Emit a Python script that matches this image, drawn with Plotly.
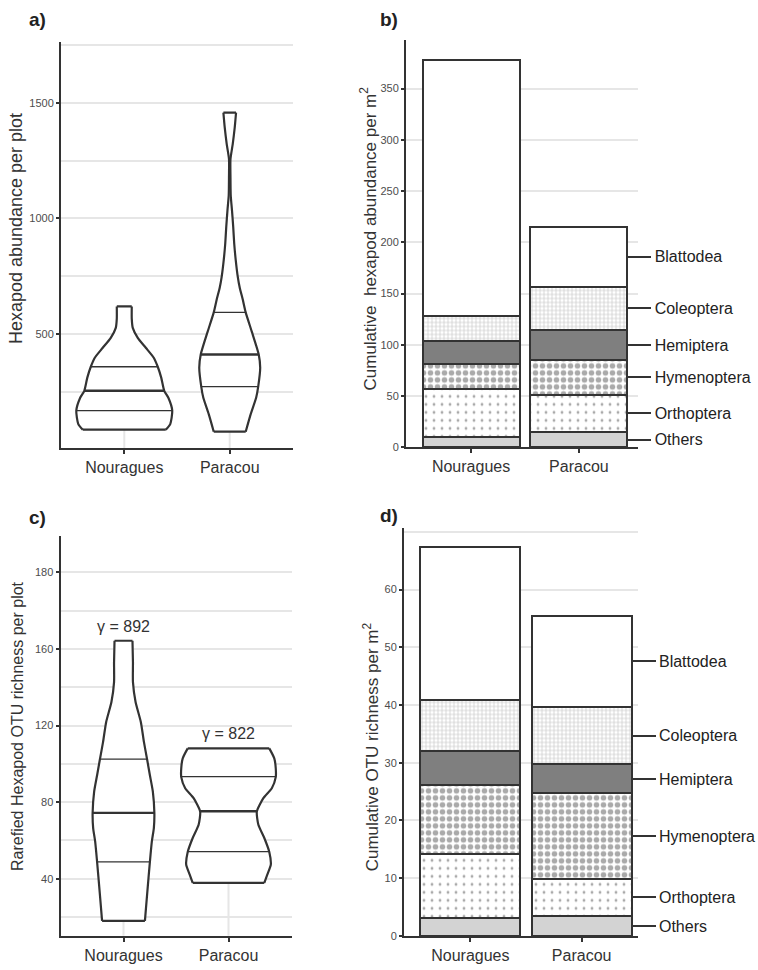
import numpy as np
import plotly.graph_objects as go

FONT = "Liberation Sans, Arial, sans-serif"
INK = "#333333"
GRID = "#e6e6e6"

sites = ["Nouragues", "Paracou"]
orders = ["Others", "Orthoptera", "Hymenoptera", "Hemiptera", "Coleoptera", "Blattodea"]

# a) hexapod abundance per plot: violin outline (value, full width in category units)
a_nour_y = [86, 110, 168, 225, 254, 311, 358, 397, 440, 483, 526, 566, 619]
a_nour_w = [0.787, 0.872, 0.910, 0.834, 0.758, 0.701, 0.635, 0.559, 0.408, 0.256, 0.161, 0.142, 0.142]
a_nour_quartiles = [168, 254, 358]
a_para_y = [77, 153, 225, 272, 354, 411, 511, 593, 650, 700, 748, 819, 891, 963, 1034,
            1100, 1180, 1256, 1321, 1393, 1457]
a_para_w = [0.303, 0.398, 0.502, 0.540, 0.578, 0.550, 0.417, 0.303, 0.246, 0.190, 0.152,
            0.114, 0.085, 0.066, 0.043, 0.019, 0.014, 0.014, 0.057, 0.095, 0.120]
a_para_quartiles = [272, 411, 593]
a_ticks = [500, 1000, 1500]
a_minor = [250, 750, 1250, 1750]
a_strong_grid = [750, 1500]

# c) rarefied OTU richness per plot
c_nour_y = [18.0, 33.6, 48.6, 59.5, 66.5, 74.3, 85.5, 94.2, 102.3, 111.5, 121.9, 132.3, 142.7, 153.0, 164.3]
c_nour_w = [0.408, 0.455, 0.502, 0.540, 0.578, 0.588, 0.559, 0.502, 0.450, 0.389, 0.330, 0.230, 0.180, 0.180, 0.171]
c_nour_quartiles = [48.8, 74.4, 102.5]
c_para_y = [37.9, 42.2, 47.4, 54.0, 61.3, 68.2, 75.1, 82.1, 87.3, 93.1, 97.7, 102.9, 108.1]
c_para_w = [0.682, 0.739, 0.806, 0.777, 0.682, 0.569, 0.540, 0.664, 0.825, 0.900, 0.900, 0.872, 0.777]
c_para_quartiles = [54.2, 75.3, 93.3]
c_gamma = ["γ = 892", "γ = 822"]
c_tick_vals = [40, 80, 120, 160, 200]
c_tick_text = ["40", "80", "120", "160", "180"]
c_minor = [20, 60, 100, 140, 180]

# b) cumulative abundance per m2, stacked by order (bottom to top)
b_nour = [10.3, 46.6, 24.5, 22.0, 24.9, 249.2]
b_para = [14.9, 36.2, 34.2, 29.1, 42.0, 58.8]
b_ticks = [0, 50, 100, 150, 200, 250, 300, 350]

# d) cumulative OTU richness per m2
d_nour = [3.05, 11.15, 11.9, 5.9, 8.9, 26.4]
d_para = [3.45, 6.45, 14.8, 5.0, 10.0, 15.8]
d_ticks = [0, 10, 20, 30, 40, 50, 60]
d_minor = [70]
d_strong_grid = [70]

fills = {
    "Others": dict(color="#d3d3d3"),
    "Orthoptera": dict(color="white", pattern=dict(shape=".", size=8, solidity=0.1,
                                                    fgcolor="#555555", bgcolor="white")),
    "Hymenoptera": dict(color="white", pattern=dict(shape=".", size=7, solidity=0.5,
                                                     fgcolor="#555555", bgcolor="white")),
    "Hemiptera": dict(color="#7f7f7f"),
    "Coleoptera": dict(color="white", pattern=dict(shape="+", size=4, solidity=0.3,
                                                    fgcolor="#8c8c8c", bgcolor="white")),
    "Blattodea": dict(color="white"),
}

W, H = 758, 970


def px_x(v):
    return v / W


def px_y(v):
    return 1 - v / H


# panel geometry (pixels) and data ranges
geo = {
    "a": dict(x=(61, 293), y=(42, 451), xr=[0.4, 2.6], yr=[5.7, 1763.6]),
    "b": dict(x=(406, 638), y=(40.7, 450), xr=[0.397, 2.548], yr=[0, 397]),
    "c": dict(x=(60.5, 291.5), y=(539.3, 941.7), xr=[0.4, 2.6], yr=[10.2, 219]),
    "d": dict(x=(404, 638), y=(531.7, 941.7), xr=[0.404, 2.506], yr=[0, 70.6]),
}

fig = go.Figure()


def add_violin(xc, ys, ws, quart, xa, ya, y_floor):
    ys = np.asarray(ys, float)
    half = np.asarray(ws, float) / 2
    left, right = xc - half, xc + half
    common = dict(xaxis=xa, yaxis=ya, hoverinfo="skip")
    # light guide from the axis up to the lowest value
    fig.add_trace(go.Scatter(x=[xc, xc], y=[y_floor, ys[0]], mode="lines",
                             line=dict(color=GRID, width=2), **common))
    # white body
    fig.add_trace(go.Scatter(x=np.concatenate([left, right[::-1]]), y=np.concatenate([ys, ys[::-1]]),
                             mode="lines", fill="toself", fillcolor="white",
                             line=dict(width=0, shape="spline", smoothing=0.6), **common))
    # outline: curved sides, flat ends
    line = dict(color=INK, width=2.2)
    for side in (left, right):
        fig.add_trace(go.Scatter(x=side, y=ys, mode="lines",
                                 line=dict(**line, shape="spline", smoothing=0.6), **common))
    for k in (0, -1):
        fig.add_trace(go.Scatter(x=[left[k], right[k]], y=[ys[k], ys[k]], mode="lines",
                                 line=line, **common))
    for i, q in enumerate(quart):
        hw = np.interp(q, ys, ws) / 2
        fig.add_trace(go.Scatter(x=[xc - hw, xc + hw], y=[q, q], mode="lines",
                                 line=dict(color=INK, width=2.4 if i == 1 else 1.3), **common))


add_violin(1, a_nour_y, a_nour_w, a_nour_quartiles, "x", "y", geo["a"]["yr"][0])
add_violin(2, a_para_y, a_para_w, a_para_quartiles, "x", "y", geo["a"]["yr"][0])
add_violin(1, c_nour_y, c_nour_w, c_nour_quartiles, "x3", "y3", geo["c"]["yr"][0])
add_violin(2, c_para_y, c_para_w, c_para_quartiles, "x3", "y3", geo["c"]["yr"][0])


def add_stack(nour, para, xa, ya):
    for k, name in enumerate(orders):
        fig.add_trace(go.Bar(x=[1, 2], y=[nour[k], para[k]], width=0.9, name=name,
                             marker=dict(**fills[name], line=dict(color=INK, width=2)),
                             xaxis=xa, yaxis=ya, hoverinfo="skip"))


add_stack(b_nour, b_para, "x2", "y2")
add_stack(d_nour, d_para, "x4", "y4")


def label_axis(para, panel, ya, overlay):
    # right-hand axis naming each order at the middle of its Paracou segment
    tops = np.cumsum(para)
    mids = tops - np.asarray(para) / 2
    g = geo[panel]
    x0, x1 = px_x(g["x"][0]), px_x(g["x"][1])
    edge = 2 + 0.45
    pos = x0 + (edge - g["xr"][0]) / (g["xr"][1] - g["xr"][0]) * (x1 - x0)
    fig.add_trace(go.Scatter(x=[2] * len(mids), y=mids, mode="markers", marker=dict(opacity=0),
                             xaxis="x2" if panel == "b" else "x4", yaxis=ya, hoverinfo="skip"))
    return dict(overlaying=overlay, anchor="free", position=pos, side="right",
                range=g["yr"], tickvals=list(mids), ticktext=orders,
                ticks="outside", ticklen=23, tickwidth=2, tickcolor=INK,
                showgrid=False, zeroline=False, showline=False,
                tickfont=dict(size=16, color="#222222", family=FONT))


def xaxis(panel, anchor):
    g = geo[panel]
    return dict(domain=[px_x(g["x"][0]), px_x(g["x"][1])], range=g["xr"], anchor=anchor,
                tickvals=[1, 2], ticktext=sites, ticks="outside", ticklen=4, tickwidth=1.5,
                tickcolor=INK, showline=True, linecolor=INK, linewidth=2, zeroline=False,
                showgrid=False, tickfont=dict(size=16, color=INK, family=FONT))


def yaxis(panel, anchor, tickvals, ticktext, minor):
    g = geo[panel]
    ax = dict(domain=[px_y(g["y"][1]), px_y(g["y"][0])], range=g["yr"], anchor=anchor,
              tickvals=tickvals, ticktext=ticktext, ticks="outside", ticklen=3, tickwidth=1.5,
              tickcolor=INK, showline=True, linecolor=INK, linewidth=2, zeroline=False,
              showgrid=True, gridcolor=GRID, gridwidth=2,
              tickfont=dict(size=11, color="#4d4d4d", family=FONT))
    if minor:
        ax["minor"] = dict(tickvals=minor, showgrid=True, gridcolor=GRID, gridwidth=2, ticks="")
    return ax


layout = dict(
    width=W, height=H, margin=dict(l=0, r=0, t=0, b=0),
    paper_bgcolor="white", plot_bgcolor="white", showlegend=False, barmode="stack",
    font=dict(family=FONT, color=INK),
    xaxis=xaxis("a", "y"), yaxis=yaxis("a", "x", a_ticks, [str(v) for v in a_ticks], a_minor),
    xaxis2=xaxis("b", "y2"), yaxis2=yaxis("b", "x2", b_ticks, [str(v) for v in b_ticks], None),
    xaxis3=xaxis("c", "y3"), yaxis3=yaxis("c", "x3", c_tick_vals, c_tick_text, c_minor),
    xaxis4=xaxis("d", "y4"), yaxis4=yaxis("d", "x4", d_ticks, [str(v) for v in d_ticks], d_minor),
)
layout["yaxis5"] = label_axis(b_para, "b", "y5", "y2")
layout["yaxis6"] = label_axis(d_para, "d", "y6", "y4")
fig.update_layout(**layout)

# darker reference lines
for v in a_strong_grid:
    fig.add_shape(type="line", xref="x domain", x0=0, x1=1, yref="y", y0=v, y1=v,
                  line=dict(color="#bdbdbd", width=1), layer="below")
for v in d_strong_grid:
    fig.add_shape(type="line", xref="x4 domain", x0=0, x1=1, yref="y4", y0=v, y1=v,
                  line=dict(color="#bdbdbd", width=1), layer="below")

# gamma diversity above the richness violins
for xc, ys, txt in [(1, c_nour_y, c_gamma[0]), (2, c_para_y, c_gamma[1])]:
    fig.add_annotation(x=xc, y=max(ys), xref="x3", yref="y3", text=txt, showarrow=False,
                       yanchor="bottom", yshift=4, font=dict(size=16, color=INK, family=FONT))

# panel letters
for txt, x, y in [("a)", 37.5, 20), ("b)", 389, 20), ("c)", 37.5, 521), ("d)", 389, 519)]:
    fig.add_annotation(x=px_x(x), y=px_y(y), xref="paper", yref="paper", text=f"<b>{txt}</b>",
                       showarrow=False, xanchor="center", yanchor="middle",
                       font=dict(size=19, color="#222222", family=FONT))

# axis titles
titles = [
    ("Hexapod abundance per plot", 15.5, 230, 18),
    ("Cumulative  hexapod abundance per m<sup>2</sup>", 368, 240, 17),
    ("Rarefied Hexapod OTU richness per plot", 17.5, 731, 16),
    ("Cumulative OTU richness per m<sup>2</sup>", 371, 752, 17),
]
for txt, x, y, size in titles:
    fig.add_annotation(x=px_x(x), y=px_y(y), xref="paper", yref="paper", text=txt,
                       showarrow=False, textangle=-90, xanchor="center", yanchor="middle",
                       font=dict(size=size, color=INK, family=FONT))

fig.write_html("out.html")
